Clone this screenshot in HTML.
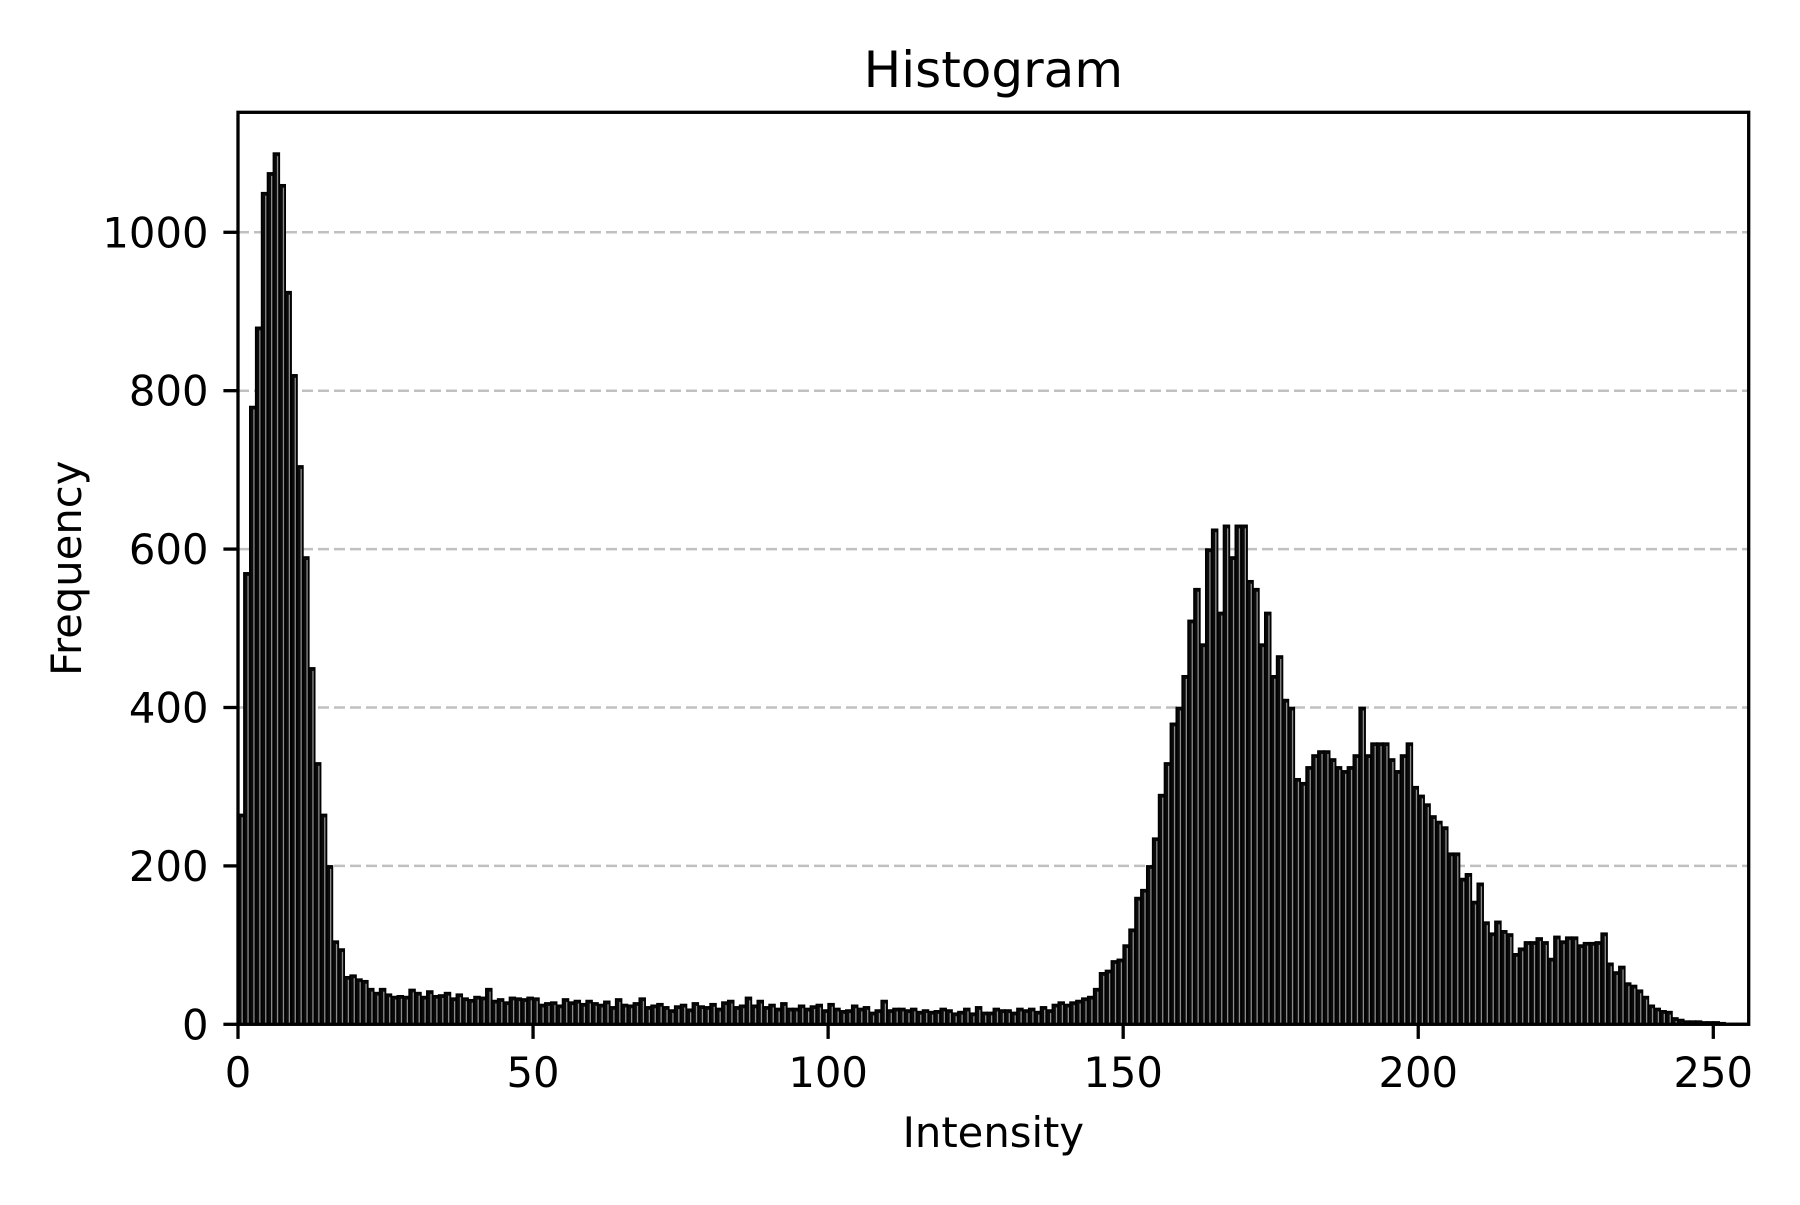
<!DOCTYPE html>
<html><head><meta charset="utf-8"><style>
body{margin:0;background:#fff;}
svg text{font-family:"DejaVu Sans","Liberation Sans",sans-serif;fill:#000;}
</style></head><body>
<svg id="chart" width="1800" height="1200" xmlns="http://www.w3.org/2000/svg">
<rect width="1800" height="1200" fill="#fff"/>
<g id="grid"></g><g id="bars"></g><g id="axes"></g>
</svg>
<script>
const binStarts = Array.from({length:256},(_,i)=>i);
const freq = [
265,570,780,880,1050,1075,1100,1060,925,820,705,590,450,330,265,200,105,95,60,62,
57,55,45,40,45,38,35,36,35,44,40,35,42,36,37,40,33,38,33,31,
35,34,45,30,32,28,34,33,32,34,33,25,27,28,24,32,28,30,26,30,
27,25,29,22,32,25,24,27,33,22,24,26,22,18,23,25,19,27,23,22,
26,20,28,30,22,24,34,24,30,22,25,20,27,20,20,24,20,23,25,18,
26,20,17,18,24,20,22,15,18,30,18,20,20,18,20,16,18,16,17,20,
18,14,16,20,14,22,15,15,20,18,18,15,20,18,20,16,22,18,25,28,
25,28,30,33,35,45,65,68,80,82,100,120,160,170,200,235,290,330,380,400,
440,510,550,480,600,625,520,630,590,630,630,560,550,480,520,440,465,410,400,310,
305,325,340,345,345,335,325,320,325,340,400,340,355,355,355,335,320,340,355,300,
289,278,263,256,249,216,216,184,190,155,178,129,115,130,118,114,89,96,104,104,
109,104,83,111,105,110,110,100,103,103,104,115,77,66,73,52,49,43,35,24,
20,17,16,8,6,4,4,4,3,3,3,2,1,1,1,1];
const xTicks = [0,50,100,150,200,250];
const yTicks = [0,200,400,600,800,1000];
const xMax = 256, yMax = 1151.5;
const L=238,R=1748.7,T=112.3,B=1024.3;
const xs = v => L + v/xMax*(R-L);
const ys = v => B - v/yMax*(B-T);
const NS="http://www.w3.org/2000/svg";
function mk(tag,attrs,parent){const e=document.createElementNS(NS,tag);for(const k in attrs)e.setAttribute(k,attrs[k]);parent.appendChild(e);return e;}
const grid=document.getElementById('grid'),bars=document.getElementById('bars'),axes=document.getElementById('axes');
yTicks.forEach(t=>{if(t===0)return;
 const g=mk('line',{x1:L,x2:R,y1:ys(t),y2:ys(t),stroke:'#c0c0c0','stroke-width':2.5,'stroke-dasharray':'11,5'},grid);
 
 });
freq.forEach((v,i)=>{
 const x0=xs(binStarts[i]),x1=xs(binStarts[i]+1);
 const r=mk('rect',{x:x0,y:ys(v),width:x1-x0,height:B-ys(v),fill:'#0a0a0a',stroke:'#000','stroke-width':1.6},bars);
 
 
 if(v>2){mk('line',{x1:(x0+x1)/2+1.2,x2:(x0+x1)/2+1.2,y1:ys(v)+3,y2:B-1,stroke:'#8a8a8a','stroke-width':1.3},bars);}
});
const frame=mk('rect',{x:L,y:T,width:R-L,height:B-T,fill:'none',stroke:'#000','stroke-width':3.3},axes);


xTicks.forEach(t=>{
 mk('line',{x1:xs(t),x2:xs(t),y1:B,y2:B+14.6,stroke:'#000','stroke-width':3.3},axes);
 const tx=mk('text',{x:xs(t),y:1087,'text-anchor':'middle','font-size':'41.7'},axes);tx.textContent=t;
 
 });
yTicks.forEach(t=>{
 mk('line',{x1:L-14.6,x2:L,y1:ys(t),y2:ys(t),stroke:'#000','stroke-width':3.3},axes);
 const tx=mk('text',{x:L-29.5,y:ys(t)+15,'text-anchor':'end','font-size':'41.7'},axes);tx.textContent=t;
 
 });
const title=mk('text',{x:(L+R)/2,y:87,'text-anchor':'middle','font-size':'50'},axes);title.textContent='Histogram';


const xl=mk('text',{x:(L+R)/2,y:1147,'text-anchor':'middle','font-size':'41.7'},axes);xl.textContent='Intensity';


const yl=mk('text',{x:0,y:0,'text-anchor':'middle','font-size':'41.7',transform:'translate(81,'+((T+B)/2)+') rotate(-90)'},axes);yl.textContent='Frequency';


</script>
</body></html>
